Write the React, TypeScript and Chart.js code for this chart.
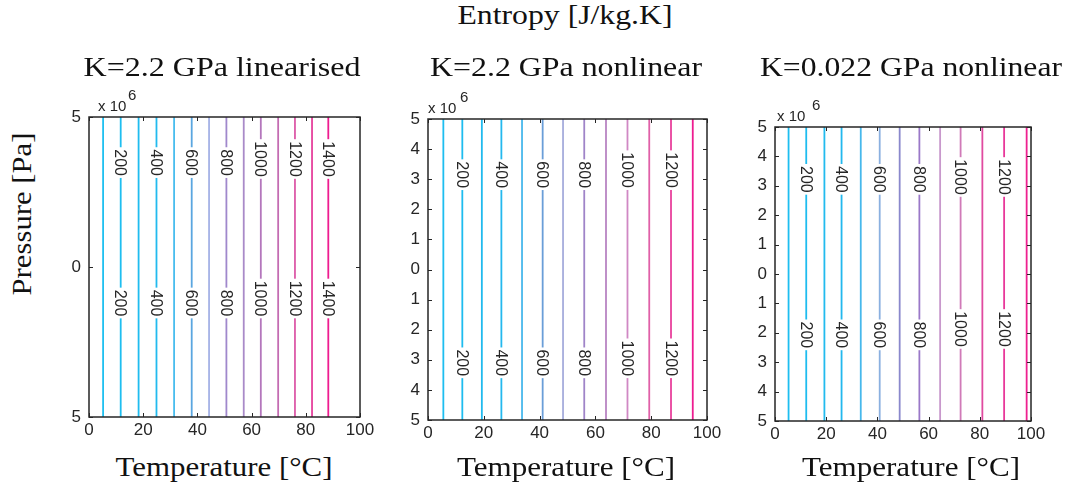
import React, { useEffect, useRef } from 'react';
import { Chart, registerables } from 'chart.js';
Chart.register(...registerables);

// ---------------- data ----------------
const X_TICKS_MIN = 0;
const X_TICKS_MAX = 100;
const Y_MIN = -5e6;
const Y_MAX = 5e6;

// Panel 1: K=2.2 GPa linearised
const levels1 = [100, 200, 300, 400, 500, 600, 700, 800, 900, 1000, 1100, 1200, 1300, 1400];
const temps1 = [5.2, 11.7, 18.3, 24.9, 31.4, 37.9, 44.3, 50.7, 57.1, 63.4, 69.8, 76.0, 82.3, 88.3];
const labelLevels1 = [200, 400, 600, 800, 1000, 1200, 1400];
const labelUpperP1 = [3.48e6, 3.48e6, 3.48e6, 3.48e6, 3.6e6, 3.6e6, 3.6e6];
const labelLowerP1 = [-1.2e6, -1.2e6, -1.2e6, -1.2e6, -1.05e6, -1.05e6, -1.05e6];

// Panel 2: K=2.2 GPa nonlinear
const levels2 = [100, 200, 300, 400, 500, 600, 700, 800, 900, 1000, 1100, 1200, 1300];
const temps2 = [5.5, 12.3, 19.3, 26.3, 33.7, 41.1, 48.4, 56.0, 63.8, 71.5, 79.3, 87.1, 94.9];
const labelLevels2 = [200, 400, 600, 800, 1000, 1200];
const labelUpperP2 = [3.15e6, 3.15e6, 3.15e6, 3.15e6, 3.3e6, 3.3e6];
const labelLowerP2 = [-3.1e6, -3.1e6, -3.1e6, -3.1e6, -2.95e6, -2.95e6];

// Panel 3: K=0.022 GPa nonlinear
const levels3 = [100, 200, 300, 400, 500, 600, 700, 800, 900, 1000, 1100, 1200, 1300];
const temps3 = [5.3, 12.2, 19.3, 26.0, 33.5, 40.9, 48.7, 56.4, 64.5, 72.5, 81.0, 89.5, 98.3];
const labelLevels3 = [200, 400, 600, 800, 1000, 1200];
const labelUpperP3 = [3.22e6, 3.22e6, 3.22e6, 3.22e6, 3.3e6, 3.3e6];
const labelLowerP3 = [-2.07e6, -2.07e6, -2.07e6, -2.07e6, -1.87e6, -1.87e6];

const yTickStep1 = 5e6;
const yTickStep2 = 1e6;
const yTickStep3 = 1e6;
const xTickStep = 20;

// ---------------- styles ----------------
const colors1 = ['#1ec0f0', '#1ebef0', '#20bcef', '#22baee', '#48bdee', '#5aa6e0', '#a4b2e6', '#a088cc', '#a98ac8', '#b476bc', '#c46cb2', '#dc5aa8', '#e6409c', '#ee1c90'];
const colors2 = ['#1ebef0', '#1ebcef', '#20baee', '#24b8ee', '#48b8ec', '#6a9ed8', '#a6acdc', '#a084c8', '#b884c2', '#d088c4', '#e060a8', '#e8409c', '#ee1c90'];
const colors3 = ['#1ebef0', '#1ebcef', '#22bbee', '#22b8ee', '#46b8ec', '#8ab0e0', '#8a88cc', '#9a78c8', '#c898cc', '#d07ab8', '#e04aa0', '#e8389a', '#ee2090'];

const AXIS_COLOR = '#262626';
const TICK_FONT = { family: 'Liberation Sans', size: 17 };
const SERIF = 'Liberation Serif';

const YW = 45; // space left of plot inside canvas
const PT = 36; // space above plot inside canvas
const PR = 26; // space right of plot
const XH = 30; // space below plot

type Panel = {
  levels: number[]; temps: number[]; colors: string[];
  labelLevels: number[]; labelUpper: number[]; labelLower: number[];
  yStep: number;
  left: number; top: number; right: number; bottom: number;
  expX: number; sixX: number;
};

const panels: Panel[] = [
  { levels: levels1, temps: temps1, colors: colors1, labelLevels: labelLevels1, labelUpper: labelUpperP1, labelLower: labelLowerP1, yStep: yTickStep1, left: 89, top: 117, right: 360, bottom: 417, expX: 9, sixX: 39 },
  { levels: levels2, temps: temps2, colors: colors2, labelLevels: labelLevels2, labelUpper: labelUpperP2, labelLower: labelLowerP2, yStep: yTickStep2, left: 428, top: 119, right: 707, bottom: 420, expX: 0, sixX: 32 },
  { levels: levels3, temps: temps3, colors: colors3, labelLevels: labelLevels3, labelUpper: labelUpperP3, labelLower: labelLowerP3, yStep: yTickStep3, left: 775, top: 127, right: 1031, bottom: 421, expX: 2, sixX: 37 },
];

const texts = [
  { text: 'Entropy [J/kg.K]', cx: 565, cy: 15, w: 215, rot: 0 },
  { text: 'K=2.2 GPa linearised', cx: 221.5, cy: 67, w: 277, rot: 0 },
  { text: 'K=2.2 GPa nonlinear', cx: 566, cy: 67, w: 272, rot: 0 },
  { text: 'K=0.022 GPa nonlinear', cx: 911, cy: 67, w: 302, rot: 0 },
  { text: 'Temperature [°C]', cx: 223.5, cy: 467, w: 217, rot: 0 },
  { text: 'Temperature [°C]', cx: 566, cy: 467, w: 218, rot: 0 },
  { text: 'Temperature [°C]', cx: 911, cy: 467, w: 218, rot: 0 },
  { text: 'Pressure [Pa]', cx: 22, cy: 213.5, w: 163, rot: -90 },
];
const TEXT_SIZE = 27;

function measure(text: string, size: number) {
  const c = document.createElement('canvas').getContext('2d')!;
  c.font = `${size}px "${SERIF}"`;
  return c.measureText(text).width;
}

function makeFramePlugin(p: Panel) {
  return {
    id: 'frame',
    afterDatasetsDraw(chart: any) {
      const ctx = chart.ctx;
      const xs = chart.scales.x;
      const ys = chart.scales.y;
      const a = chart.chartArea;
      ctx.save();
      // contour labels
      ctx.font = '16px "Liberation Sans"';
      p.labelLevels.forEach((lv, i) => {
        const idx = p.levels.indexOf(lv);
        const px = xs.getPixelForValue(p.temps[idx]);
        [p.labelUpper[i], p.labelLower[i]].forEach((yv) => {
          const py = ys.getPixelForValue(yv);
          const txt = String(lv);
          const w = ctx.measureText(txt).width;
          ctx.fillStyle = '#ffffff';
          ctx.fillRect(px - 3, py - w / 2 - 2, 6, w + 4);
          ctx.save();
          ctx.translate(px, py);
          ctx.rotate(Math.PI / 2);
          ctx.fillStyle = AXIS_COLOR;
          ctx.textAlign = 'center';
          ctx.textBaseline = 'middle';
          ctx.fillText(txt, 0, 1);
          ctx.restore();
        });
      });
      // box
      ctx.strokeStyle = AXIS_COLOR;
      ctx.lineWidth = 1.5;
      ctx.strokeRect(a.left, a.top, a.right - a.left, a.bottom - a.top);
      // inward ticks
      ctx.lineWidth = 1;
      const TL = 4;
      ctx.beginPath();
      ys.ticks.forEach((t: any) => {
        const y = Math.round(ys.getPixelForValue(t.value)) + 0.5;
        ctx.moveTo(a.left, y); ctx.lineTo(a.left + TL, y);
        ctx.moveTo(a.right, y); ctx.lineTo(a.right - TL, y);
      });
      xs.ticks.forEach((t: any) => {
        const x = Math.round(xs.getPixelForValue(t.value)) + 0.5;
        ctx.moveTo(x, a.bottom); ctx.lineTo(x, a.bottom - TL);
        ctx.moveTo(x, a.top); ctx.lineTo(x, a.top + TL);
      });
      ctx.stroke();
      // exponent label
      ctx.fillStyle = AXIS_COLOR;
      ctx.textAlign = 'left';
      ctx.textBaseline = 'middle';
      ctx.font = '15px "Liberation Sans"';
      ctx.fillText('x 10', a.left + p.expX, a.top - 10);
      ctx.fillText('6', a.left + p.sixX, a.top - 21);
      ctx.restore();
    },
  };
}

function PanelChart({ p }: { p: Panel }) {
  const ref = useRef<HTMLCanvasElement>(null);
  const w = YW + (p.right - p.left) + PR;
  const h = PT + (p.bottom - p.top) + XH;
  useEffect(() => {
    const datasets = p.temps.map((t, i) => ({
      label: String(p.levels[i]),
      data: [{ x: t, y: Y_MIN }, { x: t, y: Y_MAX }],
      borderColor: p.colors[i],
      backgroundColor: p.colors[i],
      borderWidth: 1.8,
      pointRadius: 0,
      showLine: true,
      fill: false,
    }));
    const chart = new Chart(ref.current!, {
      type: 'scatter',
      data: { datasets },
      options: {
        animation: false,
        responsive: false,
        devicePixelRatio: 1,
        events: [],
        layout: { padding: { left: 0, right: PR, top: PT, bottom: 0 } },
        plugins: { legend: { display: false }, tooltip: { enabled: false }, title: { display: false } },
        scales: {
          x: {
            type: 'linear', min: X_TICKS_MIN, max: X_TICKS_MAX,
            ticks: { stepSize: xTickStep, padding: 3, font: TICK_FONT, color: AXIS_COLOR, maxRotation: 0, autoSkip: false },
            grid: { display: false, drawTicks: false },
            border: { display: false },
            afterFit(s: any) { s.height = XH; s.paddingLeft = 0; s.paddingRight = 0; },
          },
          y: {
            type: 'linear', min: Y_MIN, max: Y_MAX,
            ticks: {
              stepSize: p.yStep, padding: 8, font: TICK_FONT, color: AXIS_COLOR, autoSkip: false,
              callback: (v: any) => String(Math.round(Math.abs(Number(v)) / 1e6)),
            },
            grid: { display: false, drawTicks: false },
            border: { display: false },
            afterFit(s: any) { s.width = YW; s.paddingTop = 0; s.paddingBottom = 0; },
          },
        },
      } as any,
      plugins: [makeFramePlugin(p)],
    });
    return () => chart.destroy();
  }, []);
  return (
    <canvas
      ref={ref}
      width={w}
      height={h}
      style={{ position: 'absolute', left: p.left - YW, top: p.top - PT, width: w, height: h }}
    />
  );
}

export default function App() {
  return (
    <div style={{ position: 'absolute', left: 0, top: 0, width: 1081, height: 493, background: '#fff', overflow: 'hidden' }}>
      {panels.map((p, i) => <PanelChart key={i} p={p} />)}
      {texts.map((t, i) => {
        const sx = t.w / measure(t.text, TEXT_SIZE);
        return (
          <div
            key={i}
            style={{
              position: 'absolute', left: t.cx, top: t.cy, whiteSpace: 'nowrap',
              fontFamily: `"${SERIF}"`, fontSize: TEXT_SIZE, color: '#111', lineHeight: 1,
              transform: `translate(-50%, -50%) rotate(${t.rot}deg) scaleX(${sx})`,
            }}
          >
            {t.text}
          </div>
        );
      })}
    </div>
  );
}
